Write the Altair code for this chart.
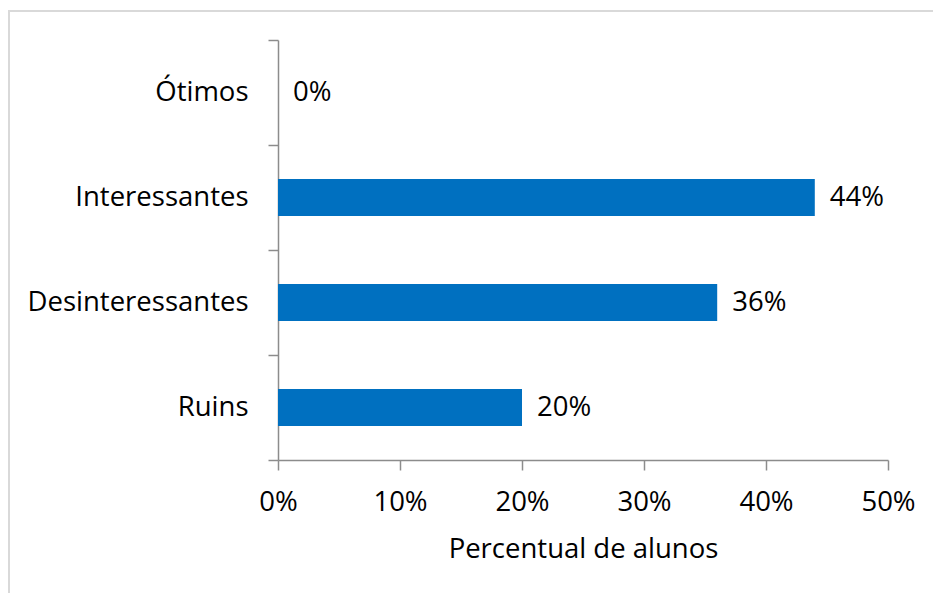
import altair as alt
import pandas as pd

categories = ["Ótimos", "Interessantes", "Desinteressantes", "Ruins"]
values = [0.00, 0.44, 0.36, 0.20]
x_ticks = [0, 0.1, 0.2, 0.3, 0.4, 0.5]

df = pd.DataFrame({"cat": categories, "val": values})

FONT = "Open Sans"
FS = 27.5
AXIS_COLOR = "#8c8c8c"

y_enc = alt.Y(
    "cat:N",
    sort=categories,
    title=None,
    scale=alt.Scale(paddingInner=0, paddingOuter=0),
    axis=alt.Axis(
        tickBand="extent",
        tickSize=10,
        tickColor=AXIS_COLOR,
        tickWidth=1.5,
        domainColor=AXIS_COLOR,
        domainWidth=1.5,
        labelPadding=20,
        labelLimit=400,
        labelFont=FONT,
        labelFontSize=FS,
        labelColor="#000000",
        grid=False,
    ),
)

x_enc = alt.X(
    "val:Q",
    title="Percentual de alunos",
    scale=alt.Scale(domain=[0, 0.5], nice=False),
    axis=alt.Axis(
        values=x_ticks,
        format=".0%",
        tickSize=10,
        tickColor=AXIS_COLOR,
        tickWidth=1.5,
        domainColor=AXIS_COLOR,
        domainWidth=1.5,
        labelPadding=18,
        labelFlush=False,
        labelOverlap=False,
        labelFont=FONT,
        labelFontSize=FS,
        labelColor="#000000",
        titleFont=FONT,
        titleFontSize=FS,
        titleFontWeight="normal",
        titleColor="#000000",
        titlePadding=20,
        grid=False,
    ),
)

border = alt.Chart(pd.DataFrame({"a": [0]})).mark_rect(
    fill=None, stroke="#d9d9d9", strokeWidth=2
).encode(
    x=alt.value(-269), x2=alt.value(700),
    y=alt.value(-29), y2=alt.value(700),
)

bars = alt.Chart(df).mark_bar(color="#0070C0", size=37).encode(x=x_enc, y=y_enc)

labels = alt.Chart(df).mark_text(
    align="left", baseline="middle", dx=15, font=FONT, fontSize=FS, color="#000000"
).encode(
    x="val:Q",
    y=alt.Y("cat:N", sort=categories),
    text=alt.Text("val:Q", format=".0%"),
)

chart = alt.layer(border, bars, labels).properties(
    width=610,
    height=420,
    background="white",
    autosize=alt.AutoSizeParams(type="none"),
    padding={"left": 278, "top": 40, "right": 45, "bottom": 133},
).configure_view(strokeWidth=0, stroke="transparent")

chart.save("out.html", embed_options={"renderer": "svg", "actions": False})
